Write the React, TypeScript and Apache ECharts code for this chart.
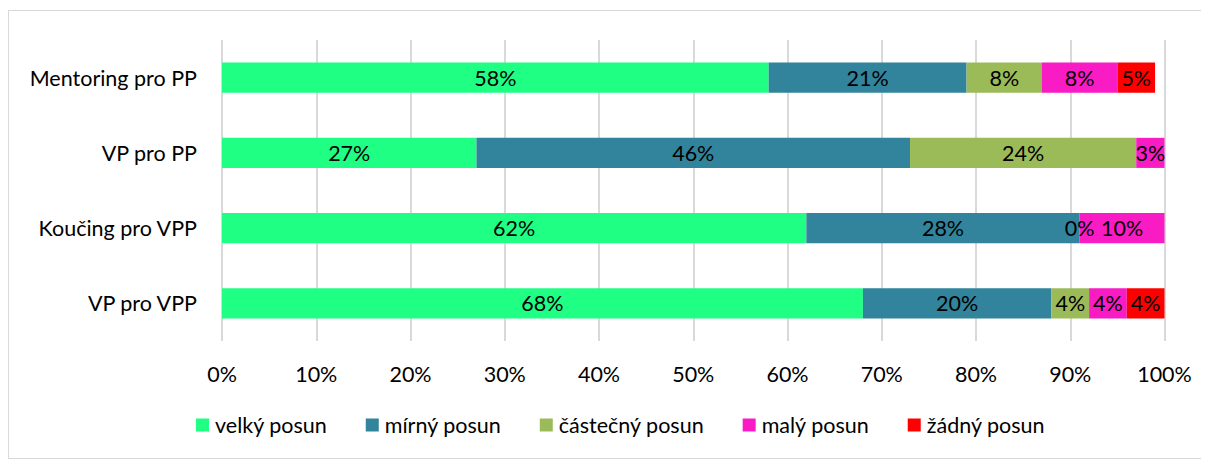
import React, { useEffect, useRef } from "react";
import * as echarts from "echarts";

const categories = ["Mentoring pro PP", "VP pro PP", "Koučing pro VPP", "VP pro VPP"];
const seriesNames = ["velký posun", "mírný posun", "částečný posun", "malý posun", "žádný posun"];
const colors = ["#1EFF84", "#31849B", "#9BBB59", "#F91BC4", "#FF0000"];

// bar lengths (percent)
const velky = [58, 27, 62, 68];
const mirny = [21, 46, 29, 20];
const castecny = [8, 24, 0, 4];
const maly = [8, 3, 9.2, 4];
const zadny = [4, null, null, 4];

// displayed labels (percent)
const velkyLbl = [58, 27, 62, 68];
const mirnyLbl = [21, 46, 28, 20];
const castecnyLbl = [8, 24, 0, 4];
const malyLbl = [8, 3, 10, 4];
const zadnyLbl = [5, null, null, 4];

const values = [velky, mirny, castecny, maly, zadny];
const labels = [velkyLbl, mirnyLbl, castecnyLbl, malyLbl, zadnyLbl];

const FONT = "Lato";
const FS = 21.5;

export default function App() {
  const ref = useRef<HTMLDivElement>(null);
  useEffect(() => {
    if (!ref.current) return;
    const chart = echarts.init(ref.current, undefined, { renderer: "svg" });
    chart.setOption({
      animation: false,
      textStyle: { fontFamily: FONT },
      grid: { left: 213, right: 43.5, top: 29, bottom: 117, containLabel: false },
      legend: {
        left: 182,
        top: 398,
        itemWidth: 13,
        itemHeight: 13,
        itemGap: 38.5,
        icon: "rect",
        textStyle: { fontFamily: FONT, fontSize: FS, color: "#000", padding: [0, 0, 0, 1] },
        data: seriesNames,
      },
      xAxis: {
        type: "value",
        min: 0,
        max: 100,
        interval: 10,
        axisLabel: { formatter: "{value}%", fontSize: FS, color: "#000", margin: 22, fontFamily: FONT },
        splitLine: { show: true, lineStyle: { color: "#D9D9D9", width: 2 } },
        axisLine: { show: false },
        axisTick: { show: false },
      },
      yAxis: {
        type: "category",
        inverse: true,
        data: categories,
        axisLabel: { fontSize: FS, color: "#000", margin: 25, fontFamily: FONT },
        axisLine: { show: false },
        axisTick: { show: false },
      },
      series: seriesNames.map((name, i) => ({
        name,
        type: "bar",
        stack: "total",
        barWidth: "40%",
        itemStyle: { color: colors[i] },
        label: {
          show: true,
          position: "inside",
          color: "#000",
          fontSize: FS,
          fontFamily: FONT,
          formatter: (p: any) => {
            const l = labels[i][p.dataIndex];
            return l === null || l === undefined ? "" : l + "%";
          },
        },
        data: values[i],
      })),
    });
    return () => chart.dispose();
  }, []);
  return (
    <div
      style={{
        position: "relative",
        width: 1201,
        height: 449,
        marginTop: 2,
        border: "1px solid #D9D9D9",
        boxSizing: "border-box",
      }}
    >
      <div ref={ref} style={{ position: "absolute", left: 0, top: 0, width: 1199, height: 447 }} />
    </div>
  );
}
